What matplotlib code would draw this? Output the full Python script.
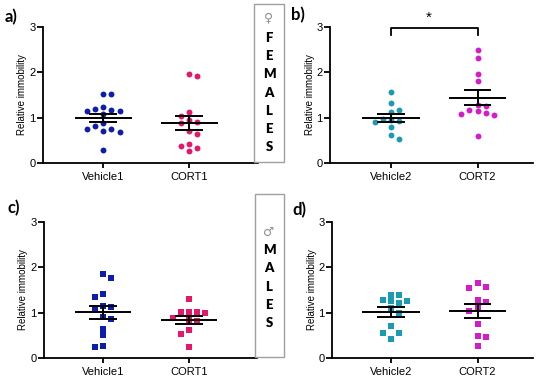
import numpy as np
import matplotlib
matplotlib.use("Agg")
import matplotlib.pyplot as plt
from matplotlib.patches import Rectangle

plt.rcParams['font.family'] = ['Liberation Sans', 'DejaVu Sans']

# ---------------- data ----------------
cats_1 = ["Vehicle1", "CORT1"]
cats_2 = ["Vehicle2", "CORT2"]

fem_vehicle1 = [1.53, 1.53, 1.24, 1.19, 1.16, 1.15, 1.15, 1.08, 0.88, 0.82,
                0.75, 0.71, 0.74, 0.68, 0.29]
fem_cort1 = [1.97, 1.91, 1.13, 1.04, 0.94, 0.90, 0.89, 0.71, 0.64, 0.37,
             0.42, 0.33, 0.27]
fem_vehicle2 = [1.57, 1.32, 1.18, 1.12, 0.98, 0.95, 0.93, 0.90, 0.79, 0.61, 0.53]
fem_cort2 = [2.49, 2.32, 1.96, 1.80, 1.29, 1.26, 1.18, 1.14, 1.09, 1.10, 1.06, 0.59]

male_vehicle1 = [1.85, 1.76, 1.41, 1.35, 1.15, 1.13, 1.05, 0.91, 0.85, 0.65,
                 0.50, 0.27, 0.24]
male_cort1 = [1.31, 1.01, 1.01, 1.01, 0.99, 0.88, 0.83, 0.82, 0.61, 0.52, 0.25]
male_vehicle2 = [1.40, 1.40, 1.28, 1.26, 1.25, 1.22, 1.10, 0.99, 0.70, 0.56, 0.56, 0.41]
male_cort2 = [1.65, 1.57, 1.54, 1.29, 1.23, 1.12, 1.04, 0.75, 0.49, 0.47, 0.26]

y_ticks = [0, 1, 2, 3]
y_label = "Relative immobility"
panel_labels = ["a)", "b)", "c)", "d)"]
fem_letters = ["\u2640", "F", "E", "M", "A", "L", "E", "S"]
male_letters = ["\u2642", "M", "A", "L", "E", "S"]

c_blue = "#0E1EAA"
c_pink = "#E5176D"
c_teal = "#1B9AB3"
c_mag = "#D41CC9"

W, H = 550, 385
fig = plt.figure(figsize=(W / 100, H / 100), dpi=100)


def add_ax(left, right, top, bottom):
    return fig.add_axes([left / W, 1 - bottom / H, (right - left) / W, (bottom - top) / H])


def swarm_offsets(ax, xc, vals, step=8.2, dth=6.5):
    """greedy beeswarm in pixel space, half-step grid, box collision"""
    vals = np.asarray(vals, float)
    order = np.argsort(-vals)
    inv = ax.transData.inverted()
    placed = []
    res = np.zeros(len(vals))
    toggle = 1
    for i in order:
        px0, py = ax.transData.transform((xc, vals[i]))
        cands = [0.0]
        for k in range(1, 24):
            cands += [toggle * k * step / 2, -toggle * k * step / 2]
        for off in cands:
            px = px0 + off
            ok = all(not (abs(px - qx) < step - 0.2 and abs(py - qy) < dth) for qx, qy in placed)
            if ok:
                break
        if off != 0:
            toggle = -toggle
        placed.append((px, py))
        res[i] = inv.transform((px, py))[0]
    return res


def panel(ax, cats, groups, colors, marker, xlim, msize):
    ax.set_xlim(*xlim)
    ax.set_ylim(0, 3)
    for s in ["top", "right"]:
        ax.spines[s].set_visible(False)
    for s in ["left", "bottom"]:
        ax.spines[s].set_linewidth(1.3)
    ax.set_yticks(y_ticks)
    ax.set_xticks(range(len(cats)))
    ax.set_xticklabels(cats)
    ax.tick_params(axis='y', length=4, width=1.3, pad=1.5, labelsize=8)
    ax.tick_params(axis='x', length=3.5, width=1.3, pad=3, labelsize=8)
    ax.set_ylabel(y_label, fontsize=7)
    ax.yaxis.set_label_coords(-0.075, 0.5)
    for j, (vals, col) in enumerate(zip(groups, colors)):
        xs = swarm_offsets(ax, j, vals)
        ax.scatter(xs, vals, s=msize, marker=marker, color=col, linewidths=0, zorder=2)
        v = np.asarray(vals)
        m = v.mean()
        se = v.std(ddof=1) / np.sqrt(len(v))
        ax.hlines(m, j - 0.33, j + 0.33, color="black", lw=1.4, zorder=3)
        ax.hlines([m - se, m + se], j - 0.16, j + 0.16, color="black", lw=1.4, zorder=3)
        ax.vlines(j, m - se, m + se, color="black", lw=1.4, zorder=3)


ax_a = add_ax(43, 258, 27, 163)
panel(ax_a, cats_1, [fem_vehicle1, fem_cort1], [c_blue, c_pink], "o", (-0.70, 1.80), 18)

ax_b = add_ax(330, 533, 27, 163)
panel(ax_b, cats_2, [fem_vehicle2, fem_cort2], [c_teal, c_mag], "o", (-0.705, 1.64), 18)
ax_b.plot([0, 0, 1, 1], [2.83, 2.97, 2.97, 2.83], color="black", lw=1.3, clip_on=False)
ax_b.text(0.44, 3.2, "*", ha="center", va="center", fontsize=11, clip_on=False)

ax_c = add_ax(44, 257, 222, 358)
panel(ax_c, cats_1, [male_vehicle1, male_cort1], [c_blue, c_pink], "s", (-0.686, 1.79), 16)

ax_d = add_ax(332, 533, 222, 358)
panel(ax_d, cats_2, [male_vehicle2, male_cort2], [c_teal, c_mag], "s", (-0.68, 1.64), 16)

# panel labels
for lab, (px, py) in zip(panel_labels, [(5, 17), (291, 15), (7, 208), (292, 210)]):
    fig.text(px / W, 1 - py / H, lab, fontsize=12, fontweight="bold",
             family=["Lato", "DejaVu Sans"], ha="left", va="center")

# side boxes
fig.patches.append(Rectangle((254 / W, 1 - 162 / H), 30 / W, 158 / H, transform=fig.transFigure,
                             fill=False, edgecolor="#A0A0A0", lw=1.0))
fig.patches.append(Rectangle((255 / W, 1 - 357 / H), 29 / W, 163 / H, transform=fig.transFigure,
                             fill=False, edgecolor="#A0A0A0", lw=1.0))


def side_text(letters, ys):
    for t, py in zip(letters, ys):
        if t in ("\u2640", "\u2642"):
            fig.text(269 / W, 1 - py / H, t, fontsize=9, color="#909090", ha="center", va="center",
                     family=["DejaVu Sans"])
        else:
            fig.text(269 / W, 1 - py / H, t, fontsize=9.5, fontweight="heavy", ha="center",
                     va="center", family=["Lato", "DejaVu Sans"])


side_text(fem_letters, [18, 38, 56, 74, 93, 111, 129, 147])
side_text(male_letters, [232, 250, 268, 287, 305, 323])

fig.savefig("out.png", dpi=100)
